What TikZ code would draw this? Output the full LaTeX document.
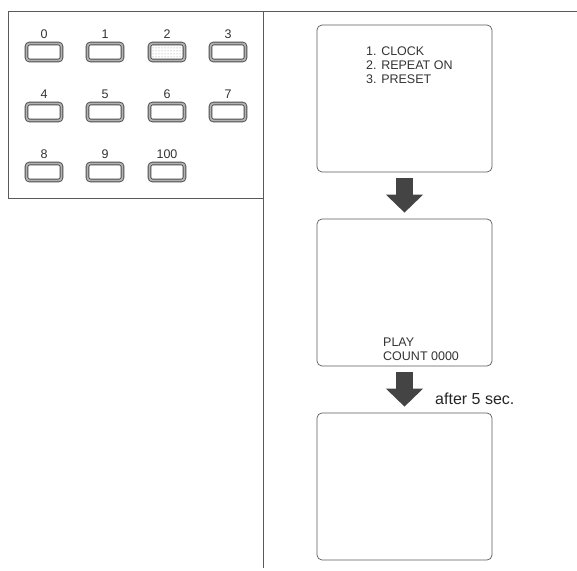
\documentclass[tikz,border=0pt]{standalone}
\usepackage{fontspec}
\setmainfont{Liberation Sans}
\usetikzlibrary{arrows.meta,positioning,patterns}
\definecolor{inkgray}{RGB}{90,90,90}
\definecolor{arrowgray}{RGB}{68,68,68}

\tikzset{
  keybtn/.style={draw=black!70, double=black!30, double distance=1.8pt, line width=0.9pt,
    rounded corners=3pt, minimum width=35pt, minimum height=17pt, inner sep=0pt},
  keylbl/.style={font=\fontsize{12.5}{13}\selectfont, text=black!80, inner sep=0pt},
  screen/.style={draw=inkgray, line width=0.7pt, rounded corners=5pt, minimum width=175pt,
    minimum height=147pt, inner sep=0pt},
  osd/.style={font=\fontsize{12.5}{14}\selectfont, text=black!80, align=left, inner sep=0pt},
  bigarrow/.style={arrowgray, line width=17pt, -{Triangle[width=36pt,length=18pt]},
    shorten <=6pt, shorten >=6pt}
}

\begin{document}
\begin{tikzpicture}[x=1pt, y=-1pt]
  \useasboundingbox (0,0) rectangle (577,570);

  % frame lines
  \draw[inkgray, line width=0.7pt] (8,198) -- (8,11) -- (577,11);
  \draw[inkgray, line width=0.7pt] (8,198) -- (263,198);
  \draw[inkgray, line width=0.7pt] (263,11) -- (263,568);

  % number keys
  \foreach \lbl/\x/\y in {0/44/52, 1/105/52, 3/228/52,
                          4/44/112, 5/105/112, 6/167/112, 7/228/112,
                          8/44/172, 9/105/172, 100/167/172} {
    \node[keybtn] (b\lbl) at (\x,\y) {};
    \node[keylbl, above=4.5pt of b\lbl] (l\lbl) {\lbl};
  }
  \node[keybtn, fill=black!12, pattern=dots, pattern color=black!45] (b2) at (167,52) {};
  \node[keylbl, above=4.5pt of b2] (l2) {2};

  % screens
  \node[screen] (scrA) at (404.5,98.5) {};
  \node[osd, anchor=north west] (menu) at (366,47) {1. CLOCK\\2. REPEAT ON\\3. PRESET};

  \node[screen] (scrB) at (404.5,292.5) {};
  \node[osd, anchor=south west] (play) at (383,361) {PLAY\\COUNT 0000};

  \node[screen] (scrC) at (404.5,486.5) {};

  % arrows
  \draw[bigarrow] (scrA.south) -- (scrB.north);
  \draw[bigarrow] (scrB.south) -- (scrC.north);
  \node[font=\fontsize{16}{17}\selectfont, text=black!85, anchor=west, inner sep=0pt] (delay) at (435,399) {after 5 sec.};
\end{tikzpicture}
\end{document}
